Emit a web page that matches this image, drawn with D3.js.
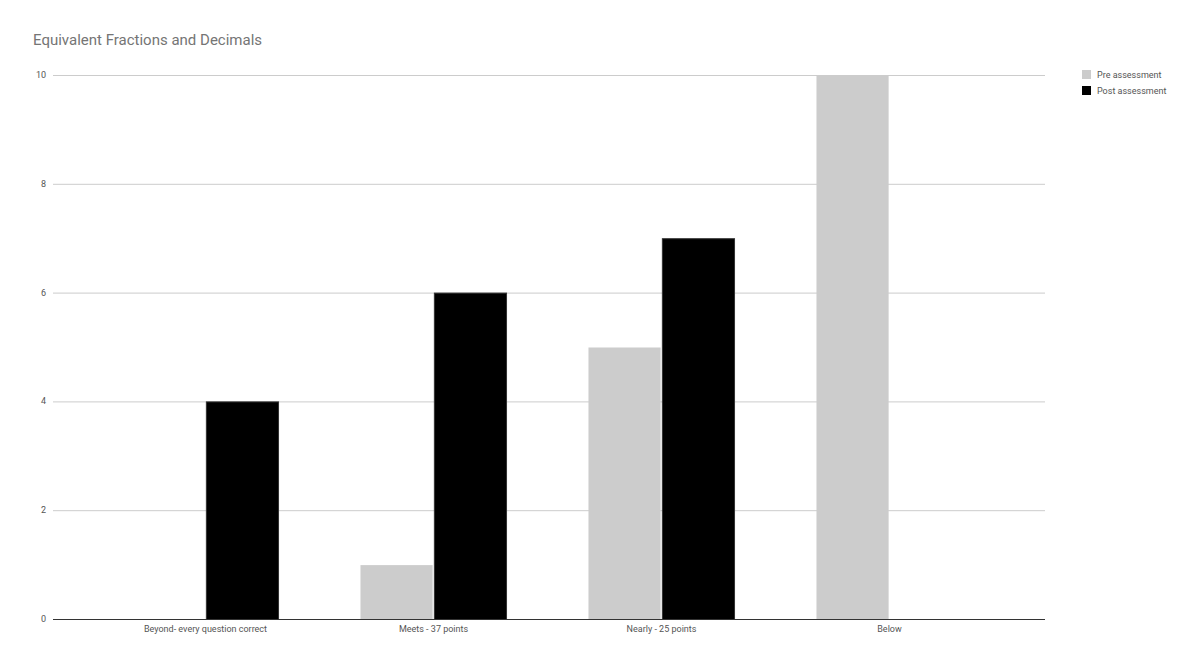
<!DOCTYPE html>
<html>
<head>
<meta charset="utf-8">
<script src="https://cdn.jsdelivr.net/npm/d3@7"></script>
<style>
  body { margin: 0; background: #fff; }
  svg { font-family: Roboto, Arial, sans-serif; }
</style>
</head>
<body>
<svg id="chart" width="1199" height="666"></svg>
<script>
const categories = ["Beyond- every question correct", "Meets - 37 points", "Nearly - 25 points", "Below"];
const seriesNames = ["Pre assessment", "Post assessment"];
const preValues = [0, 1, 5, 10];
const postValues = [4, 6, 7, 0];
const yTicks = [0, 2, 4, 6, 8, 10];
const colors = ["#cccccc", "#000000"];

const svg = d3.select("#chart");
const plot = { left: 53, right: 1045, top: 75, bottom: 619 };

const x = d3.scaleBand()
  .domain(categories)
  .range([91.5, 1003.5])
  .paddingInner(0.355)
  .paddingOuter(0.1775);

const xs = d3.scaleBand()
  .domain(seriesNames)
  .range([0, x.bandwidth()])
  .paddingInner(0.01);

const y = d3.scaleLinear().domain([0, 10]).range([plot.bottom, plot.top]);

svg.append("text")
  .attr("x", 33)
  .attr("y", 45)
  .attr("font-size", 15)
  .attr("fill", "#757575")
  .text("Equivalent Fractions and Decimals");

// gridlines
svg.append("g")
  .selectAll("line")
  .data(yTicks.filter((d) => d !== 0))
  .join("line")
  .attr("x1", plot.left)
  .attr("x2", plot.right)
  .attr("y1", (d) => y(d) + 0.5)
  .attr("y2", (d) => y(d) + 0.5)
  .attr("stroke", "#cccccc");

svg.append("g")
  .selectAll("text")
  .data(yTicks)
  .join("text")
  .attr("x", 46)
  .attr("y", (d) => y(d) + 3)
  .attr("text-anchor", "end")
  .attr("font-size", 9)
  .attr("fill", "#555")
  .text((d) => d);

// bars
const rows = categories.map((c, i) => ({ cat: c, vals: [preValues[i], postValues[i]] }));
const groups = svg.append("g")
  .selectAll("g")
  .data(rows)
  .join("g")
  .attr("transform", (d) => `translate(${x(d.cat)},0)`);

groups.selectAll("rect")
  .data((d) => d.vals.map((v, j) => ({ v, s: seriesNames[j], j })).filter((d) => d.v > 0))
  .join("rect")
  .attr("x", (d) => xs(d.s) + 0.5)
  .attr("width", xs.bandwidth() - 1)
  .attr("y", (d) => y(d.v) + 0.5)
  .attr("height", (d) => y(0) - y(d.v))
  .attr("fill", (d) => colors[d.j])
  .attr("stroke", (d) => (d.j === 1 ? "#333" : "none"));

// baseline
svg.append("line")
  .attr("x1", plot.left)
  .attr("x2", plot.right)
  .attr("y1", y(0) + 0.5)
  .attr("y2", y(0) + 0.5)
  .attr("stroke", "#333");

svg.append("g")
  .selectAll("text")
  .data(categories)
  .join("text")
  .attr("x", (d) => x(d) + x.bandwidth() / 2)
  .attr("y", 632)
  .attr("text-anchor", "middle")
  .attr("font-size", 9)
  .attr("fill", "#555")
  .text((d) => d);

// legend
const legend = svg.append("g")
  .selectAll("g")
  .data(seriesNames)
  .join("g")
  .attr("transform", (d, i) => `translate(1082,${70 + i * 16})`);

legend.append("rect")
  .attr("width", 9)
  .attr("height", 9)
  .attr("fill", (d, i) => colors[i]);

legend.append("text")
  .attr("x", 15)
  .attr("y", 8)
  .attr("font-size", 9)
  .attr("fill", "#555")
  .text((d) => d);
</script>
</body>
</html>
